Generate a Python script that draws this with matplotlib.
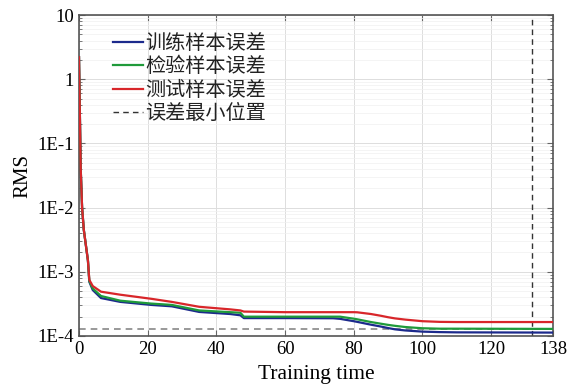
import numpy as np
import matplotlib
matplotlib.use("Agg")
import matplotlib.pyplot as plt

# values
x_pts = [0, 0.5, 0.9, 1.4, 2.6, 3, 4, 6.4, 12, 21, 27, 35, 44, 47, 48, 60, 74, 76, 80, 81, 85, 88, 90, 92,
         95, 100, 105, 110, 138]
train_err = [2.2, 0.04, 0.01, 0.0045, 0.0015, 0.0007, 0.00052, 0.00039, 0.00034, 0.000305, 0.00029, 0.000237,
             0.00022, 0.00021, 0.00019, 0.00019, 0.000189, 0.000185, 0.00017, 0.000166, 0.00015, 0.00014,
             0.000133, 0.000127, 0.000122, 0.000117, 0.000115, 0.000114, 0.000113]
valid_err = [2.2, 0.04, 0.01, 0.0045, 0.0015, 0.00072, 0.00055, 0.00042, 0.000355, 0.00032, 0.000305, 0.00025,
             0.000235, 0.00023, 0.0002, 0.0002, 0.0002, 0.0002, 0.000186, 0.000182, 0.000165, 0.000155,
             0.000149, 0.000144, 0.000138, 0.000132, 0.00013, 0.00013, 0.000129]
test_err = [2.2, 0.04, 0.01, 0.0045, 0.0015, 0.00075, 0.0006, 0.00049, 0.00044, 0.00038, 0.00034, 0.000285,
            0.00026, 0.00025, 0.00024, 0.000235, 0.000235, 0.000235, 0.000235, 0.000234, 0.00022, 0.000206,
            0.000196, 0.000188, 0.00018, 0.00017, 0.000166, 0.000165, 0.000165]
best_epoch = 132
best_err = 0.00013

labels = ["训练样本误差", "检验样本误差", "测试样本误差", "误差最小位置"]
y_ticks = [1e-4, 1e-3, 1e-2, 1e-1, 1, 10]
y_labels = ["1E-4", "1E-3", "1E-2", "1E-1", "1", "10"]
x_ticks = [0, 20, 40, 60, 80, 100, 120, 138]

plt.rcParams["font.family"] = ["Liberation Serif", "Noto Sans CJK SC"]

fig = plt.figure(figsize=(5.77, 3.85), dpi=100)
ax = fig.add_axes([79 / 577, 1 - 336 / 385, (553 - 79) / 577, (336 - 15) / 385])

ax.plot(x_pts, train_err, color="#1c2a8c", lw=1.6, label=labels[0], zorder=3)
ax.plot(x_pts, valid_err, color="#1f9a3a", lw=1.6, label=labels[1], zorder=3)
ax.plot(x_pts, test_err, color="#d8262a", lw=1.6, label=labels[2], zorder=4)
ax.axvline(best_epoch, color="#333333", ls=(0, (4, 3)), lw=1.0, label=labels[3], zorder=2)
ax.axhline(best_err, color="#888888", ls=(0, (4, 3)), lw=1.2, zorder=2)

ax.set_yscale("log")
ax.set_ylim(1e-4, 10)
ax.set_xlim(0, 138)
ax.set_yticks(y_ticks)
ax.set_yticklabels(y_labels)
ax.set_xticks(x_ticks)

ax.grid(True, which="major", color="#dddddd", lw=0.7)
ax.grid(True, which="minor", axis="y", color="#f0f0f0", lw=0.5)
ax.tick_params(which="both", direction="in", top=True, right=True, labelsize=13.5, color="#666666")
ax.tick_params(which="major", length=4)
ax.tick_params(which="minor", length=2)
for s in ax.spines.values():
    s.set_color("#555555")
    s.set_linewidth(1.2)

ax.set_xlabel("Training time", fontsize=15.5, labelpad=5)
ax.set_ylabel("RMS", fontsize=15, labelpad=4)

leg = ax.legend(loc="upper left", bbox_to_anchor=(103 / 577, 1 - 23 / 385), bbox_transform=fig.transFigure,
                frameon=False, prop={"family": ["Noto Sans CJK SC"], "size": 14.5},
                handlelength=1.5, handletextpad=0.1, labelspacing=0.12, borderpad=0)
for t in leg.get_texts():
    t.set_color("#222222")

fig.savefig("out.png", dpi=100)
